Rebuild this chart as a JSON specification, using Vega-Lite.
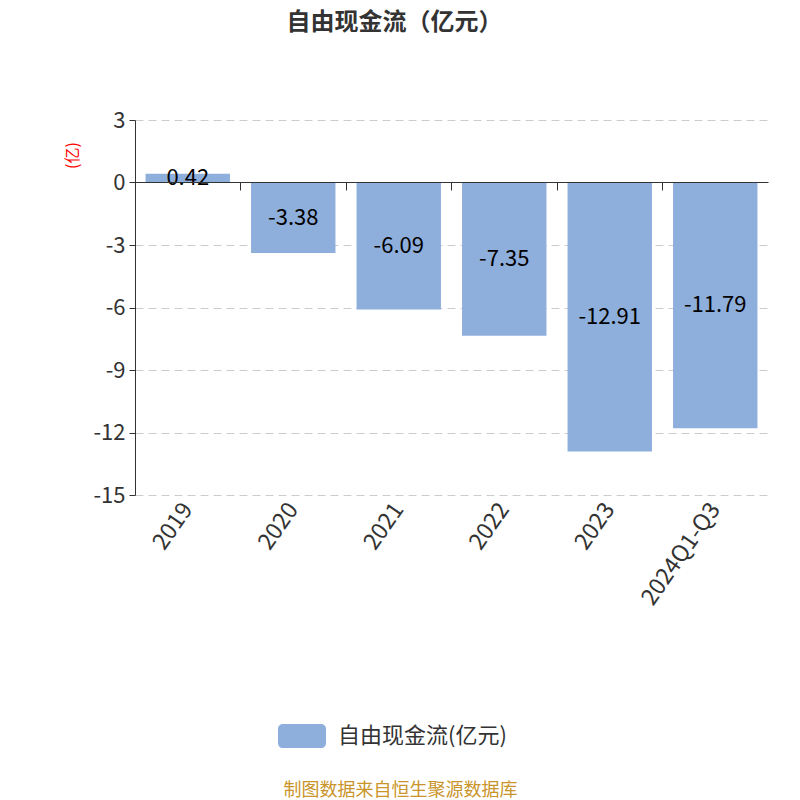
{
  "$schema": "https://vega.github.io/schema/vega-lite/v6.json",
  "autosize": {"type": "none"},
  "width": 633,
  "height": 375,
  "padding": {"left": 135, "top": 120, "right": 32, "bottom": 305},
  "background": "#ffffff",
  "config": {
    "font": "Noto Sans CJK SC",
    "view": {"stroke": null},
    "axis": {"labelFont": "Noto Sans CJK SC", "titleFont": "Noto Sans CJK SC"}
  },
  "title": {
    "text": "自由现金流（亿元）",
    "fontSize": 24,
    "fontWeight": "bold",
    "color": "#333333",
    "anchor": "middle",
    "dx": -57,
    "offset": 74
  },
  "data": {
    "values": [
      {"year": "2019", "value": 0.42},
      {"year": "2020", "value": -3.38},
      {"year": "2021", "value": -6.09},
      {"year": "2022", "value": -7.35},
      {"year": "2023", "value": -12.91},
      {"year": "2024Q1-Q3", "value": -11.79}
    ]
  },
  "layer": [
    {
      "mark": {"type": "bar", "color": "#8EAEDB"},
      "encoding": {
        "x": {
          "field": "year",
          "type": "nominal",
          "sort": null,
          "scale": {"paddingInner": 0.2, "paddingOuter": 0.1},
          "axis": {
            "orient": "bottom",
            "domain": false,
            "ticks": false,
            "grid": false,
            "labelAngle": -55,
            "labelAlign": "right",
            "labelBaseline": "middle",
            "labelFontSize": 23,
            "labelColor": "#333333",
            "labelPadding": 10,
            "title": "制图数据来自恒生聚源数据库",
            "titleColor": "#C9952B",
            "titleFontSize": 18,
            "titleFontWeight": "normal",
            "titleX": 265,
            "titleY": 295,
            "titleAlign": "center",
            "titleBaseline": "middle"
          }
        },
        "y": {
          "field": "value",
          "type": "quantitative",
          "scale": {"domain": [-15, 3], "nice": false, "zero": false},
          "axis": {
            "values": [3, 0, -3, -6, -9, -12, -15],
            "labelExpr": "'' + datum.value",
            "domain": true,
            "domainColor": "#333333",
            "ticks": true,
            "tickColor": "#333333",
            "tickSize": 6,
            "grid": true,
            "gridColor": "#cccccc",
            "gridDash": [8, 5],
            "labelFontSize": 22,
            "labelColor": "#333333",
            "labelPadding": 4,
            "title": "(亿)",
            "titleColor": "#ff0000",
            "titleFontSize": 16,
            "titleFontWeight": "normal",
            "titleX": -63,
            "titleY": 35,
            "titleAlign": "center",
            "titleBaseline": "middle",
            "titleAngle": -90
          }
        },
        "color": {
          "datum": "自由现金流(亿元)",
          "scale": {"range": ["#8EAEDB"]},
          "legend": {
            "title": null,
            "orient": "none",
            "legendX": 143,
            "legendY": 592,
            "symbolType": "M-0.8,-0.5 L0.8,-0.5 A0.2,0.2 0 0 1 1,-0.3 L1,0.3 A0.2,0.2 0 0 1 0.8,0.5 L-0.8,0.5 A0.2,0.2 0 0 1 -1,0.3 L-1,-0.3 A0.2,0.2 0 0 1 -0.8,-0.5 Z",
            "symbolSize": 2304,
            "symbolStrokeWidth": 0,
            "symbolOpacity": 1,
            "labelFontSize": 22,
            "labelLimit": 400,
            "labelColor": "#333333",
            "labelOffset": 12
          }
        }
      }
    },
    {
      "mark": {"type": "text", "fontSize": 22, "color": "#000000"},
      "encoding": {
        "x": {
          "field": "year",
          "type": "nominal",
          "sort": null,
          "axis": {
            "orient": "bottom",
            "offset": -313,
            "domain": true,
            "domainColor": "#333333",
            "ticks": true,
            "tickColor": "#333333",
            "tickSize": 8,
            "bandPosition": -0.125,
            "labels": false,
            "grid": false,
            "title": null,
            "zindex": 1
          }
        },
        "y": {
          "field": "value",
          "type": "quantitative",
          "scale": {"domain": [-30, 6], "nice": false, "zero": false},
          "axis": null
        },
        "text": {"field": "value", "type": "nominal"}
      }
    }
  ],
  "resolve": {"axis": {"x": "independent", "y": "independent"}, "scale": {"y": "independent"}}
}
